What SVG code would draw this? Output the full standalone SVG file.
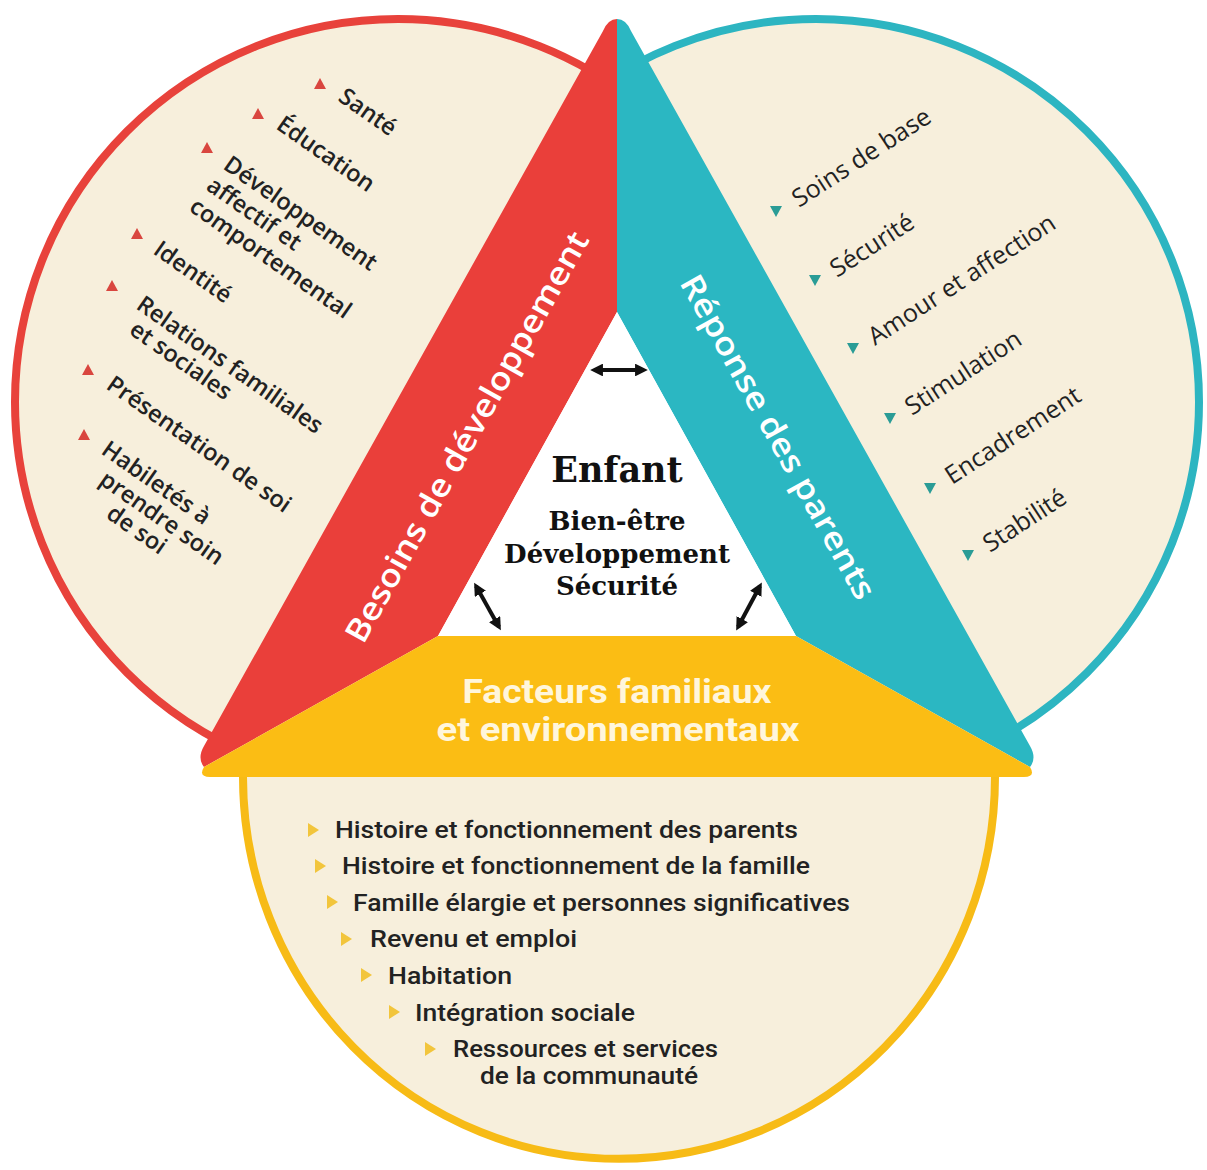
<svg xmlns="http://www.w3.org/2000/svg" width="1207" height="1170" viewBox="0 0 1207 1170">
<style>
.cream{fill:#f7efdc}
.lst{font-family:"Open Sans","Noto Sans",sans-serif;font-size:23.5px;font-weight:600;fill:#222}
.lstr{font-family:"Open Sans","Noto Sans",sans-serif;font-size:25px;font-weight:500;fill:#222}
.band{font-family:"Open Sans","Noto Sans",sans-serif;font-size:32px;font-weight:600;fill:#ffffff}
.fac{font-family:Roboto,"Noto Sans",sans-serif;font-size:34px;font-weight:700;fill:#fff6dc}
.bot{font-family:Roboto,"Noto Sans",sans-serif;font-size:24px;font-weight:500;fill:#222}
.ctr{font-family:"DejaVu Serif",serif;font-weight:700;fill:#111;text-anchor:middle}
.bred{fill:#d9463f}
.bteal{fill:#2a9c96}
.byel{fill:#f2c53c}
.arr{stroke:#111;stroke-width:4;fill:none;marker-start:url(#ah);marker-end:url(#ah)}
</style>
<defs>
<marker id="ah" viewBox="0 0 10 10" refX="7" refY="5" markerWidth="3.2" markerHeight="3.2" orient="auto-start-reverse"><path d="M0,0 L10,5 L0,10 z" fill="#111"/></marker>
<clipPath id="clipL"><polygon points="0,0 636,0 198,780 0,780"/></clipPath>
<clipPath id="clipR"><polygon points="598,0 1207,0 1207,780 1036,780"/></clipPath>
</defs>
<rect width="1207" height="1170" fill="#ffffff"/>

<g id="node-besoins">
<circle cx="398" cy="402" r="383" class="cream" stroke="#e8423b" stroke-width="8" clip-path="url(#clipL)"/>
<path d="M617,312 L617,19 Q608,19 603,31 L204,746 Q197,758 204,767 L438,636 Z" fill="#ea3f3a"/>
<text class="band" transform="translate(467,437) rotate(-60.8)" text-anchor="middle" dy="11" textLength="465" lengthAdjust="spacingAndGlyphs">Besoins de développement</text>
<polygon class="bred" points="320,78 314,89 326,89"/>
<polygon class="bred" points="258,108 252,119 264,119"/>
<polygon class="bred" points="207,142 201,153 213,153"/>
<polygon class="bred" points="137,228 131,239 143,239"/>
<polygon class="bred" points="112,280 106,291 118,291"/>
<polygon class="bred" points="88,364 82,375 94,375"/>
<polygon class="bred" points="84,429 78,440 90,440"/>
<text class="lst" transform="translate(337,100) rotate(35)">Santé</text>
<text class="lst" transform="translate(275,128) rotate(35)">Éducation</text>
<text class="lst" transform="translate(222,168) rotate(35)">Développement</text>
<text class="lst" transform="translate(205,189) rotate(35)">affectif et</text>
<text class="lst" transform="translate(188,210) rotate(35)">comportemental</text>
<text class="lst" transform="translate(152,253) rotate(35)">Identité</text>
<text class="lst" transform="translate(135,308) rotate(35)">Relations familiales</text>
<text class="lst" transform="translate(128,333) rotate(35)">et sociales</text>
<text class="lst" transform="translate(105,388) rotate(35)">Présentation de soi</text>
<text class="lst" transform="translate(100,453) rotate(35)">Habiletés à</text>
<text class="lst" transform="translate(98,483) rotate(35)">prendre soin</text>
<text class="lst" transform="translate(105,517) rotate(35)">de soi</text>
</g>

<g id="node-reponse">
<circle cx="816" cy="402" r="383" class="cream" stroke="#2db5c1" stroke-width="8" clip-path="url(#clipR)"/>
<path d="M617,312 L617,19 Q626,19 631,31 L1030,746 Q1037,758 1030,767 L796,636 Z" fill="#2bb7c2"/>
<text class="band" transform="translate(778,437) rotate(60.8)" text-anchor="middle" dy="11" textLength="366" lengthAdjust="spacingAndGlyphs">Réponse des parents</text>
<polygon class="bteal" points="770,206 782,206 776,217"/>
<polygon class="bteal" points="809,275 821,275 815,286"/>
<polygon class="bteal" points="847,343 859,343 853,354"/>
<polygon class="bteal" points="884,413 896,413 890,424"/>
<polygon class="bteal" points="924,483 936,483 930,494"/>
<polygon class="bteal" points="962,550 974,550 968,561"/>
<text class="lstr" transform="translate(799,208) rotate(-33)">Soins de base</text>
<text class="lstr" transform="translate(837,278) rotate(-33)">Sécurité</text>
<text class="lstr" transform="translate(875,346) rotate(-33)">Amour et affection</text>
<text class="lstr" transform="translate(912,416) rotate(-33)">Stimulation</text>
<text class="lstr" transform="translate(952,485) rotate(-33)">Encadrement</text>
<text class="lstr" transform="translate(990,553) rotate(-33)">Stabilité</text>
</g>

<g id="node-facteurs">
<path d="M243,770 L243,777 A376,382 0 0 0 995,777 L995,770 Z" class="cream" stroke="#f7bb16" stroke-width="8"/>
<path d="M438,636 L796,636 L1030,767 Q1036,777 1024,777 L210,777 Q198,777 204,767 Z" fill="#fbbd14"/>
<text class="fac" x="617" y="703" text-anchor="middle" textLength="309" lengthAdjust="spacingAndGlyphs">Facteurs familiaux</text>
<text class="fac" x="618" y="741" text-anchor="middle" textLength="363" lengthAdjust="spacingAndGlyphs">et environnementaux</text>
<polygon class="byel" points="308,823 319,830 308,837"/>
<polygon class="byel" points="315,859 326,866 315,873"/>
<polygon class="byel" points="327,895 338,902 327,909"/>
<polygon class="byel" points="341,932 352,939 341,946"/>
<polygon class="byel" points="361,968 372,975 361,982"/>
<polygon class="byel" points="389,1005 400,1012 389,1019"/>
<polygon class="byel" points="425,1042 436,1049 425,1056"/>
<text class="bot" x="335" y="838" textLength="463" lengthAdjust="spacingAndGlyphs">Histoire et fonctionnement des parents</text>
<text class="bot" x="342" y="874" textLength="468" lengthAdjust="spacingAndGlyphs">Histoire et fonctionnement de la famille</text>
<text class="bot" x="353" y="911" textLength="497" lengthAdjust="spacingAndGlyphs">Famille élargie et personnes significatives</text>
<text class="bot" x="370" y="947" textLength="207" lengthAdjust="spacingAndGlyphs">Revenu et emploi</text>
<text class="bot" x="388" y="984" textLength="124" lengthAdjust="spacingAndGlyphs">Habitation</text>
<text class="bot" x="415" y="1021" textLength="220" lengthAdjust="spacingAndGlyphs">Intégration sociale</text>
<text class="bot" x="453" y="1057" textLength="265" lengthAdjust="spacingAndGlyphs">Ressources et services</text>
<text class="bot" x="480" y="1084" textLength="218" lengthAdjust="spacingAndGlyphs">de la communauté</text>
</g>

<g id="node-enfant">
<polygon points="617,312 438,636 796,636" fill="#ffffff"/>
<text class="ctr" x="617" y="482" font-size="35">Enfant</text>
<text class="ctr" x="617" y="530" font-size="26">Bien-être</text>
<text class="ctr" x="617" y="563" font-size="26">Développement</text>
<text class="ctr" x="617" y="595" font-size="26">Sécurité</text>
</g>

<g id="connectors">
<line class="arr" x1="594" y1="370" x2="644" y2="370"/>
<line class="arr" x1="476" y1="586" x2="499" y2="627"/>
<line class="arr" x1="760" y1="586" x2="738" y2="627"/>
</g>
</svg>
